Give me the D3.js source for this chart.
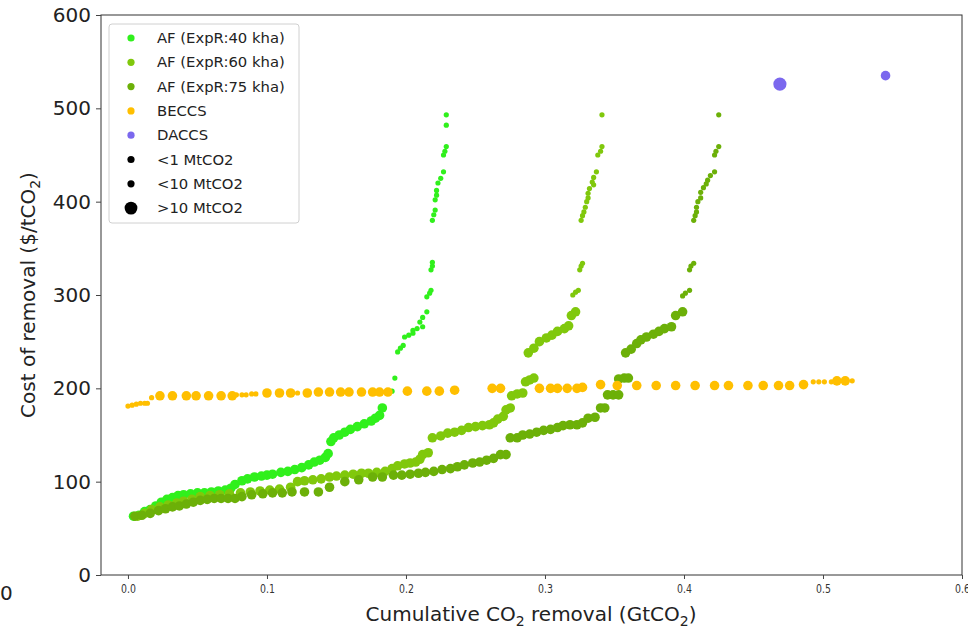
<!DOCTYPE html>
<html>
<head>
<meta charset="utf-8">
<script src="https://cdn.jsdelivr.net/npm/d3@7"></script>
<style>
  body { margin: 0; background: #fff; }
  svg { display: block; }
  text { font-family: "DejaVu Sans", sans-serif; }
</style>
</head>
<body>
<div id="graph_box"></div>
<script>
// [cumulative removal GtCO2, cost $/tCO2, size class] ; class 0 = <1 Mt, 1 = <10 Mt, 2 = >10 Mt
const af40 = [
  [0.004,63,1],[0.008,64,1],[0.012,68,1],[0.016,70,1],[0.020,74,1],[0.024,78,1],[0.028,81,1],[0.032,83,1],
  [0.036,85,1],[0.040,86,1],[0.045,87,1],[0.050,88,1],[0.055,88,1],[0.060,89,1],[0.065,90,1],[0.070,91,1],
  [0.074,93,1],[0.077,97,1],[0.082,101,1],[0.086,103,1],[0.091,105,1],[0.096,106,1],[0.100,107,1],[0.104,108,1],
  [0.110,110,1],[0.115,111,1],[0.120,113,1],[0.125,115,1],[0.130,118,1],[0.134,121,1],[0.138,123,1],[0.142,126,1],
  [0.144,130,1],[0.146,143,1],[0.148,147,1],[0.152,150,1],[0.156,153,1],[0.160,156,1],[0.165,159,1],[0.170,162,1],
  [0.175,165,1],[0.178,168,1],[0.181,171,1],[0.183,179,1],
  [0.187,195,0],[0.190,197,0],[0.192,211,0],[0.194,239,0],[0.196,243,0],[0.198,246,0],[0.199,255,0],[0.202,257,0],
  [0.205,259,0],[0.205,262,0],[0.208,264,0],[0.212,266,0],[0.210,271,0],[0.212,276,0],[0.215,282,0],[0.215,298,0],
  [0.217,302,0],[0.218,305,0],[0.218,327,0],[0.219,331,0],[0.219,335,0],[0.219,380,0],[0.220,386,0],[0.221,391,0],
  [0.221,402,0],[0.222,407,0],[0.222,412,0],[0.223,420,0],[0.225,425,0],[0.227,432,0],[0.227,450,0],[0.228,454,0],
  [0.229,459,0],[0.229,482,0],[0.229,493,0]
];

const af60 = [
  [0.007,63,1],[0.012,66,1],[0.017,70,1],[0.023,73,1],[0.029,75,1],[0.035,77,1],[0.040,79,1],[0.046,81,1],
  [0.052,84,1],[0.059,85,1],[0.066,86,1],[0.073,87,1],[0.081,88,1],[0.088,89,1],[0.095,90,1],[0.102,91,1],
  [0.109,92,1],[0.117,94,1],[0.122,100,1],[0.127,101,1],[0.133,102,1],[0.139,103,1],[0.145,105,1],[0.150,106,1],
  [0.156,107,1],[0.162,108,1],[0.168,109,1],[0.173,109,1],[0.179,110,1],[0.185,111,1],[0.190,114,1],[0.194,117,1],
  [0.199,119,1],[0.203,120,1],[0.207,121,1],[0.210,124,1],[0.212,129,1],[0.216,131,1],
  [0.219,147,1],[0.225,149,1],[0.230,152,1],[0.235,153,1],[0.240,155,1],[0.245,158,1],[0.250,159,1],[0.255,160,1],
  [0.260,161,1],[0.263,163,1],[0.266,167,1],[0.270,170,1],[0.272,177,1],[0.275,179,1],[0.276,192,1],[0.280,194,1],
  [0.284,195,1],[0.286,207,1],[0.289,209,1],[0.292,211,1],
  [0.288,238,1],[0.292,243,1],[0.296,250,1],[0.301,254,1],[0.305,257,1],[0.309,261,1],[0.314,264,1],[0.317,267,1],
  [0.319,278,1],[0.322,282,1],
  [0.320,300,0],[0.322,303,0],[0.324,305,0],[0.325,327,0],[0.326,331,0],[0.327,334,0],[0.326,380,0],[0.327,385,0],
  [0.328,389,0],[0.329,394,0],[0.330,400,0],[0.331,404,0],[0.331,409,0],[0.332,414,0],[0.335,418,0],[0.334,421,0],
  [0.335,426,0],[0.337,432,0],[0.338,450,0],[0.340,454,0],[0.341,459,0],[0.341,493,0]
];

const af75 = [
  [0.005,63,1],[0.010,64,1],[0.016,66,1],[0.022,69,1],[0.027,71,1],[0.032,73,1],[0.037,74,1],[0.042,76,1],
  [0.047,78,1],[0.052,80,1],[0.057,81,1],[0.062,82,1],[0.067,82,1],[0.072,82,1],[0.077,82,1],[0.082,84,1],
  [0.089,86,1],[0.097,87,1],[0.104,88,1],[0.111,88,1],[0.118,89,1],[0.127,89,1],[0.137,89,1],[0.145,94,1],
  [0.156,100,1],[0.166,102,1],[0.176,105,1],[0.183,105,1],[0.191,107,1],[0.197,107,1],[0.203,108,1],[0.209,109,1],
  [0.214,110,1],[0.220,111,1],[0.226,113,1],[0.232,114,1],[0.237,116,1],[0.242,118,1],[0.248,120,1],[0.253,121,1],
  [0.258,123,1],[0.263,125,1],[0.268,129,1],[0.272,129,1],
  [0.275,147,1],[0.280,147,1],[0.284,150,1],[0.289,151,1],[0.294,153,1],[0.299,155,1],[0.304,156,1],[0.309,158,1],
  [0.313,160,1],[0.318,161,1],[0.323,161,1],[0.327,163,1],[0.331,168,1],[0.336,169,1],[0.340,179,1],[0.343,179,1],
  [0.345,193,1],[0.349,193,1],[0.353,193,1],[0.353,210,1],[0.357,211,1],[0.360,211,1],
  [0.358,238,1],[0.362,242,1],[0.366,248,1],[0.369,252,1],[0.373,255,1],[0.378,258,1],[0.382,261,1],[0.386,264,1],
  [0.391,266,1],[0.394,278,1],[0.399,282,1],
  [0.399,299,0],[0.401,302,0],[0.404,305,0],[0.404,327,0],[0.405,331,0],[0.407,334,0],[0.407,380,0],[0.408,385,0],
  [0.409,389,0],[0.409,394,0],[0.410,400,0],[0.412,404,0],[0.412,410,0],[0.414,415,0],[0.416,419,0],[0.417,423,0],
  [0.419,428,0],[0.422,432,0],[0.422,450,0],[0.423,454,0],[0.425,459,0],[0.425,493,0]
];

const beccs = [
  [0.000,181,0],[0.003,182,0],[0.006,183,0],[0.009,184,0],[0.012,184,0],[0.014,184,0],[0.017,190,0],
  [0.023,192,1],[0.032,192,1],[0.042,192,1],[0.049,192,1],[0.058,192,1],[0.067,192,1],[0.075,192,1],
  [0.078,193,0],[0.082,193,0],[0.085,193,0],[0.089,194,0],[0.092,194,0],
  [0.100,195,1],[0.109,195,1],[0.117,195,1],[0.122,195,0],[0.129,195,1],[0.137,196,1],[0.145,196,1],[0.153,196,1],
  [0.159,196,1],[0.168,196,1],[0.176,196,1],[0.181,196,1],[0.187,196,1],[0.201,197,1],[0.215,197,1],[0.224,197,1],
  [0.235,198,1],[0.262,200,1],[0.268,200,1],[0.296,200,1],[0.304,200,1],[0.309,200,1],[0.316,200,1],[0.323,200,1],
  [0.327,201,1],[0.340,204,1],[0.352,203,1],[0.366,203,1],[0.380,203,1],[0.394,203,1],[0.408,203,1],[0.422,203,1],
  [0.432,203,1],[0.446,203,1],[0.457,203,1],[0.468,203,1],[0.476,203,1],[0.486,204,1],
  [0.493,207,0],[0.497,207,0],[0.501,207,0],[0.506,207,0],[0.510,208,1],[0.516,208,1],[0.521,208,0]
];

const daccs = [[0.469,526,2],[0.545,535,1]];

const seriesNames = ["AF (ExpR:40 kha)", "AF (ExpR:60 kha)", "AF (ExpR:75 kha)", "BECCS", "DACCS"];
const sizeNames = ["<1 MtCO2", "<10 MtCO2", ">10 MtCO2"];
const xTicks = [0.0, 0.1, 0.2, 0.3, 0.4, 0.5, 0.6];
const yTicks = [0, 100, 200, 300, 400, 500, 600];

const colors = ["#30f01c", "#80c80c", "#6cb008", "#ffbf00", "#7b68ee"];
const radius = [2.6, 4.8, 6.6];

const W = 968, H = 631;
const margin = { top: 15, right: 6, bottom: 56, left: 101 };
const width = W - margin.left - margin.right;
const height = H - margin.top - margin.bottom;

const root = d3.select("#graph_box").append("svg").attr("width", W).attr("height", H);
const svg = root.append("g").attr("transform", `translate(${margin.left},${margin.top})`);

const x = d3.scaleLinear().domain([-0.0194, 0.6]).range([0, width]);
const y = d3.scaleLinear().domain([0, 600]).range([height, 0]);

// points
const groups = [af40, af60, af75, beccs, daccs];
groups.forEach(function (data, i) {
  svg.append("g").selectAll("circle")
    .data(data)
    .enter()
    .append("circle")
    .attr("cx", d => x(d[0]))
    .attr("cy", d => y(d[1]))
    .attr("r", d => radius[d[2]])
    .style("fill", colors[i]);
});

// frame
svg.append("rect")
  .attr("width", width).attr("height", height)
  .attr("fill", "none").attr("stroke", "#333").attr("stroke-width", 1);

// axes
const xAxis = svg.append("g")
  .attr("transform", "translate(0," + height + ")")
  .call(d3.axisBottom(x).tickValues(xTicks).tickFormat(d3.format(".1f")).tickSize(4).tickPadding(5));
xAxis.select(".domain").remove();
xAxis.selectAll("line").attr("stroke", "#444");
xAxis.selectAll("text")
  .attr("transform", "scale(0.72,1)")
  .style("font-size", "13px").style("fill", "#333");

const yAxis = svg.append("g")
  .call(d3.axisLeft(y).tickValues(yTicks).tickSize(5).tickPadding(5));
yAxis.select(".domain").remove();
yAxis.selectAll("line").attr("stroke", "#444");
yAxis.selectAll("text").style("font-size", "20px").style("fill", "#222");

// axis labels
const xl = root.append("text")
  .attr("x", 531).attr("y", 621)
  .attr("text-anchor", "middle")
  .style("font-size", "20px").style("fill", "#222");
xl.append("tspan").text("Cumulative CO");
xl.append("tspan").attr("dy", 5).style("font-size", "14px").text("2");
xl.append("tspan").attr("dy", -5).text(" removal (GtCO");
xl.append("tspan").attr("dy", 5).style("font-size", "14px").text("2");
xl.append("tspan").attr("dy", -5).text(")");

const yl = root.append("text")
  .attr("transform", "translate(35,295) rotate(-90)")
  .attr("text-anchor", "middle")
  .style("font-size", "20px").style("fill", "#222");
yl.append("tspan").text("Cost of removal ($/tCO");
yl.append("tspan").attr("dy", 5).style("font-size", "14px").text("2");
yl.append("tspan").attr("dy", -5).text(")");

// stray zero at the lower left
root.append("text").attr("x", 0).attr("y", 600)
  .style("font-size", "20px").style("fill", "#222").text("0");

// legend
const lg = root.append("g").attr("transform", "translate(109,24)");
lg.append("rect")
  .attr("width", 190).attr("height", 199).attr("rx", 3)
  .attr("fill", "#fff").attr("fill-opacity", 0.85)
  .attr("stroke", "#d0d0d0");
const items = seriesNames.map((n, i) => ({ label: n, color: colors[i], r: 3.6 }))
  .concat(sizeNames.map((n, i) => ({ label: n, color: "#000", r: i === 2 ? 6.4 : 3.6 })));
items.forEach(function (it, i) {
  const cy = 14 + i * 24.3;
  lg.append("circle").attr("cx", 22).attr("cy", cy).attr("r", it.r).style("fill", it.color);
  lg.append("text").attr("x", 48).attr("y", cy + 5)
    .style("font-size", "14.8px").style("fill", "#222").text(it.label);
});
</script>
</body>
</html>
